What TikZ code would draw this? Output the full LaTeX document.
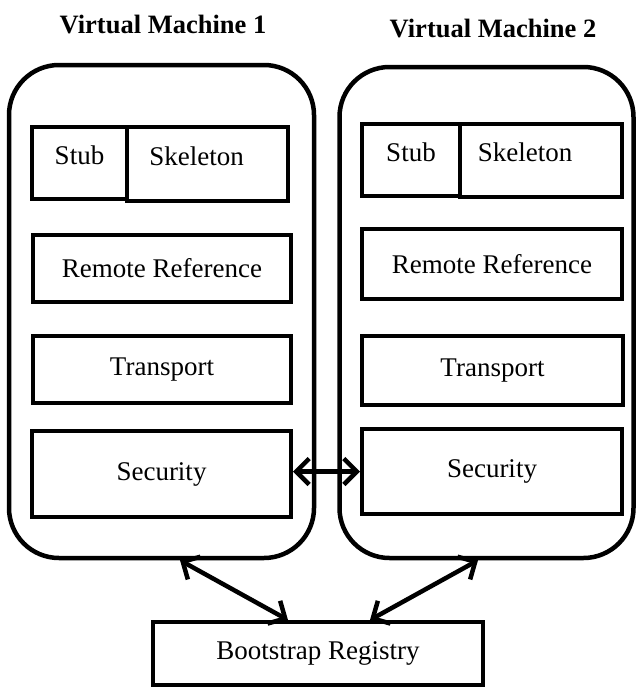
\documentclass[tikz,border=0pt]{standalone}
\usepackage{fontspec}
\setmainfont{Liberation Serif}
\usetikzlibrary{arrows.meta,positioning}

\begin{document}
\begin{tikzpicture}[x=1pt,y=-1pt,
    every node/.style={font=\fontsize{27}{31}\selectfont},
    vm/.style={draw,line width=4.5pt,rounded corners=50pt,inner sep=0pt},
    layer/.style={draw,line width=4pt,inner sep=0pt},
    link/.style={line width=4.5pt,{Straight Barb[length=13pt,width=26pt]}-{Straight Barb[length=13pt,width=26pt]}},
    title/.style={font=\fontsize{26.5}{30}\selectfont\bfseries}]
        \useasboundingbox (0,0) rectangle (636,688);
        \node[title] (TA) at (163,25) {Virtual Machine 1};
        \node[title] (TB) at (493,29) {Virtual Machine 2};
        \node[vm,minimum width=305pt,minimum height=493pt] (vmA) at (161.5,311.5) {};
        \node[vm,minimum width=294pt,minimum height=491pt] (vmB) at (486.5,312.5) {};
        \node[layer,minimum width=95pt,minimum height=72pt]  (stubA) at (79.5,163) {};
        \node[layer,minimum width=161pt,minimum height=74pt] (skelA) at (207.5,164) {};
        \node[layer,minimum width=258pt,minimum height=67pt] (remA)  at (162,268.5) {Remote Reference};
        \node[layer,minimum width=258pt,minimum height=67pt] (trA)   at (162,369.5) {Transport};
        \node[layer,minimum width=259pt,minimum height=86pt] (secA)  at (161.5,474) {Security};
        \node[layer,minimum width=98pt,minimum height=72pt]  (stubB) at (411,160) {};
        \node[layer,minimum width=162pt,minimum height=73pt] (skelB) at (541,160.5) {};
        \node[layer,minimum width=260pt,minimum height=70pt] (remB)  at (492,264) {Remote Reference};
        \node[layer,minimum width=261pt,minimum height=69pt] (trB)   at (492.5,370.5) {Transport};
        \node[layer,minimum width=260pt,minimum height=85pt] (secB)  at (492,471.5) {Security};
        \node[layer,minimum width=330pt,minimum height=63pt] (reg)   at (318,653.5) {Bootstrap Registry};
        \node (stubAt) at ([yshift=8pt]stubA) {Stub};
        \node (skelAt) at ([xshift=-11pt,yshift=8pt]skelA) {Skeleton};
        \node (stubBt) at ([yshift=8pt]stubB) {Stub};
        \node (skelBt) at ([xshift=-16pt,yshift=8pt]skelB) {Skeleton};
        \draw[link] (secA.east |- secB.west) -- (secB.west);
        \draw[link] ([xshift=18.5pt]vmA.south) -- ([xshift=-30pt]reg.north);
        \draw[link] ([xshift=52pt]reg.north) -- ([xshift=-8.5pt]vmB.south);
\end{tikzpicture}
\end{document}
